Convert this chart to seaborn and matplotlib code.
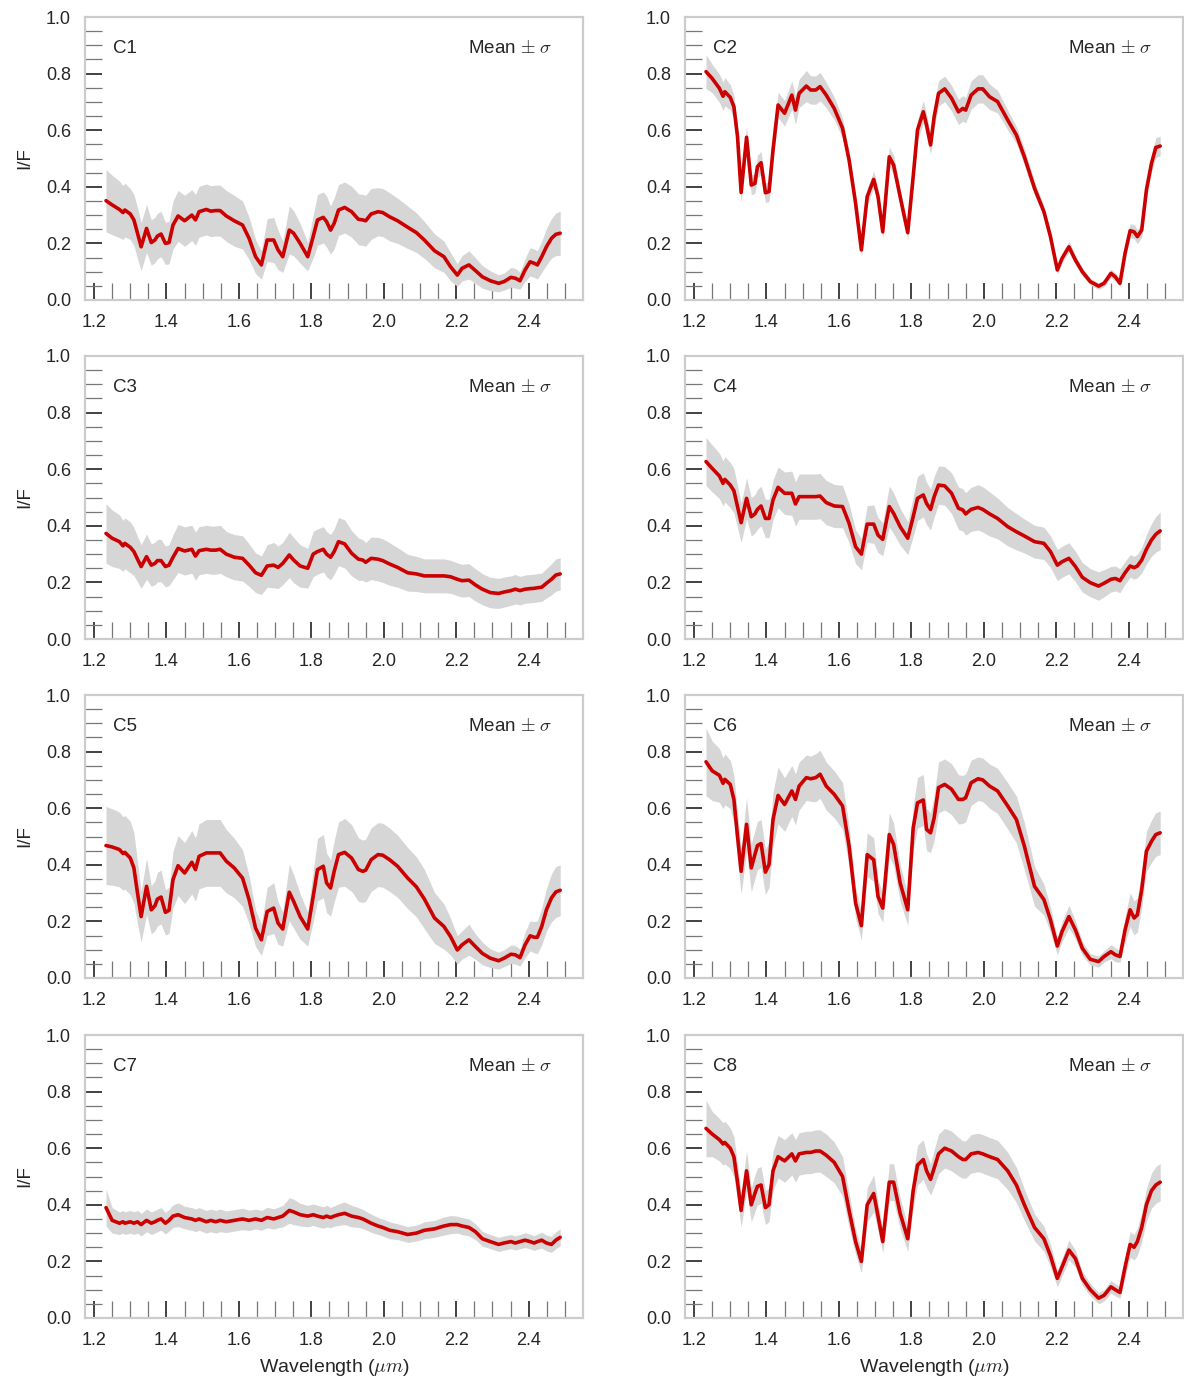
import numpy as np
import pandas as pd
import matplotlib
matplotlib.use("Agg")
import matplotlib.pyplot as plt
from matplotlib.ticker import MultipleLocator, FormatStrFormatter
import seaborn as sns

# ---- data: mean I/F spectra and 1-sigma per class ----
wavelength = [
    1.233, 1.250, 1.270, 1.280, 1.285, 1.300, 1.310, 1.320, 1.330, 1.345,
    1.358, 1.368, 1.375, 1.385, 1.397, 1.407, 1.418, 1.432, 1.450, 1.470,
    1.480, 1.490, 1.510, 1.522, 1.536, 1.548, 1.565, 1.587, 1.610, 1.628,
    1.646, 1.662, 1.678, 1.696, 1.708, 1.721, 1.739, 1.751, 1.769, 1.790,
    1.805, 1.817, 1.833, 1.842, 1.853, 1.863, 1.875, 1.892, 1.911, 1.930,
    1.942, 1.950, 1.965, 1.984, 1.997, 2.016, 2.038, 2.066, 2.090, 2.112,
    2.140, 2.166, 2.184, 2.203, 2.216, 2.235, 2.253, 2.272, 2.294, 2.317,
    2.332, 2.351, 2.363, 2.376, 2.390, 2.404, 2.415, 2.424, 2.436, 2.449,
    2.463, 2.475, 2.487]

c1_mean = [
    0.351, 0.336, 0.320, 0.309, 0.318, 0.304, 0.283, 0.236, 0.188, 0.253,
    0.203, 0.212, 0.226, 0.233, 0.200, 0.203, 0.265, 0.297, 0.280, 0.300,
    0.283, 0.312, 0.320, 0.314, 0.316, 0.316, 0.297, 0.280, 0.265, 0.218,
    0.153, 0.124, 0.212, 0.212, 0.177, 0.153, 0.247, 0.236, 0.200, 0.153,
    0.224, 0.283, 0.292, 0.277, 0.247, 0.271, 0.318, 0.327, 0.312, 0.285,
    0.283, 0.280, 0.304, 0.312, 0.309, 0.294, 0.280, 0.257, 0.238, 0.212,
    0.174, 0.153, 0.118, 0.088, 0.112, 0.124, 0.104, 0.082, 0.068, 0.059,
    0.065, 0.080, 0.077, 0.068, 0.106, 0.135, 0.130, 0.124, 0.153, 0.188,
    0.218, 0.232, 0.236]
c1_sd = [
    0.110, 0.105, 0.100, 0.095, 0.095, 0.090, 0.090, 0.090, 0.085, 0.085,
    0.080, 0.080, 0.080, 0.080, 0.075, 0.075, 0.085, 0.090, 0.090, 0.090,
    0.090, 0.090, 0.090, 0.090, 0.090, 0.090, 0.090, 0.090, 0.085, 0.075,
    0.060, 0.050, 0.075, 0.080, 0.070, 0.055, 0.085, 0.080, 0.070, 0.050,
    0.075, 0.090, 0.090, 0.090, 0.085, 0.090, 0.090, 0.090, 0.090, 0.090,
    0.090, 0.090, 0.090, 0.085, 0.085, 0.085, 0.080, 0.075, 0.070, 0.065,
    0.060, 0.055, 0.050, 0.040, 0.045, 0.050, 0.045, 0.040, 0.035, 0.030,
    0.030, 0.035, 0.035, 0.030, 0.040, 0.050, 0.050, 0.050, 0.055, 0.065,
    0.070, 0.075, 0.078]

c2_mean = [
    0.807, 0.783, 0.748, 0.720, 0.736, 0.716, 0.683, 0.577, 0.380, 0.575,
    0.406, 0.412, 0.471, 0.485, 0.379, 0.383, 0.530, 0.689, 0.660, 0.724,
    0.671, 0.730, 0.756, 0.742, 0.742, 0.754, 0.724, 0.677, 0.607, 0.495,
    0.342, 0.177, 0.365, 0.426, 0.365, 0.241, 0.506, 0.477, 0.365, 0.238,
    0.436, 0.601, 0.665, 0.618, 0.548, 0.648, 0.730, 0.746, 0.713, 0.665,
    0.677, 0.671, 0.724, 0.746, 0.746, 0.718, 0.701, 0.636, 0.583, 0.506,
    0.395, 0.312, 0.224, 0.106, 0.147, 0.188, 0.141, 0.100, 0.065, 0.049,
    0.059, 0.094, 0.082, 0.059, 0.165, 0.245, 0.241, 0.224, 0.247, 0.389,
    0.483, 0.539, 0.544]
c2_sd = [
    0.060, 0.050, 0.050, 0.050, 0.050, 0.045, 0.040, 0.040, 0.035, 0.040,
    0.035, 0.035, 0.040, 0.040, 0.035, 0.035, 0.040, 0.045, 0.045, 0.050,
    0.050, 0.050, 0.055, 0.050, 0.050, 0.050, 0.045, 0.040, 0.035, 0.030,
    0.030, 0.025, 0.030, 0.030, 0.030, 0.025, 0.035, 0.035, 0.030, 0.025,
    0.030, 0.035, 0.040, 0.040, 0.035, 0.040, 0.045, 0.045, 0.045, 0.045,
    0.045, 0.045, 0.050, 0.050, 0.050, 0.045, 0.040, 0.035, 0.030, 0.030,
    0.025, 0.020, 0.020, 0.015, 0.015, 0.020, 0.015, 0.015, 0.012, 0.012,
    0.012, 0.015, 0.015, 0.012, 0.020, 0.025, 0.025, 0.025, 0.025, 0.030,
    0.030, 0.035, 0.035]

c3_mean = [
    0.373, 0.356, 0.344, 0.329, 0.338, 0.324, 0.309, 0.282, 0.256, 0.291,
    0.261, 0.267, 0.277, 0.277, 0.256, 0.261, 0.289, 0.320, 0.311, 0.317,
    0.293, 0.312, 0.317, 0.314, 0.314, 0.317, 0.300, 0.289, 0.285, 0.261,
    0.234, 0.225, 0.258, 0.261, 0.253, 0.267, 0.297, 0.279, 0.258, 0.250,
    0.300, 0.309, 0.317, 0.300, 0.289, 0.309, 0.344, 0.336, 0.303, 0.282,
    0.279, 0.271, 0.285, 0.282, 0.277, 0.265, 0.253, 0.234, 0.230, 0.223,
    0.223, 0.223, 0.220, 0.211, 0.206, 0.208, 0.191, 0.176, 0.164, 0.161,
    0.166, 0.171, 0.176, 0.171, 0.176, 0.178, 0.179, 0.181, 0.183, 0.197,
    0.211, 0.226, 0.230]
c3_sd = [
    0.105, 0.100, 0.095, 0.090, 0.090, 0.090, 0.085, 0.080, 0.077, 0.080,
    0.075, 0.075, 0.075, 0.075, 0.072, 0.072, 0.080, 0.085, 0.085, 0.085,
    0.085, 0.085, 0.085, 0.085, 0.085, 0.085, 0.080, 0.080, 0.080, 0.075,
    0.070, 0.068, 0.075, 0.080, 0.075, 0.075, 0.080, 0.080, 0.075, 0.070,
    0.080, 0.080, 0.080, 0.080, 0.080, 0.080, 0.085, 0.085, 0.080, 0.075,
    0.072, 0.070, 0.075, 0.077, 0.077, 0.075, 0.070, 0.065, 0.062, 0.060,
    0.060, 0.060, 0.058, 0.058, 0.058, 0.058, 0.057, 0.055, 0.054, 0.053,
    0.053, 0.052, 0.052, 0.050, 0.050, 0.050, 0.050, 0.050, 0.050, 0.052,
    0.055, 0.057, 0.057]

c4_mean = [
    0.627, 0.603, 0.576, 0.550, 0.564, 0.544, 0.524, 0.468, 0.411, 0.497,
    0.432, 0.442, 0.458, 0.470, 0.426, 0.426, 0.491, 0.536, 0.515, 0.515,
    0.477, 0.503, 0.503, 0.503, 0.503, 0.505, 0.482, 0.470, 0.468, 0.409,
    0.326, 0.300, 0.406, 0.406, 0.367, 0.352, 0.468, 0.444, 0.397, 0.356,
    0.432, 0.497, 0.509, 0.479, 0.458, 0.503, 0.544, 0.541, 0.515, 0.462,
    0.456, 0.442, 0.458, 0.465, 0.458, 0.442, 0.426, 0.397, 0.379, 0.364,
    0.344, 0.338, 0.309, 0.261, 0.273, 0.285, 0.256, 0.218, 0.199, 0.187,
    0.197, 0.211, 0.214, 0.206, 0.234, 0.258, 0.252, 0.258, 0.279, 0.317,
    0.350, 0.370, 0.382]
c4_sd = [
    0.085, 0.083, 0.080, 0.080, 0.080, 0.080, 0.078, 0.075, 0.070, 0.072,
    0.068, 0.068, 0.070, 0.070, 0.068, 0.068, 0.070, 0.072, 0.075, 0.078,
    0.078, 0.080, 0.080, 0.080, 0.080, 0.080, 0.078, 0.076, 0.075, 0.068,
    0.060, 0.055, 0.065, 0.068, 0.062, 0.058, 0.072, 0.072, 0.065, 0.058,
    0.070, 0.078, 0.078, 0.075, 0.072, 0.072, 0.068, 0.068, 0.072, 0.075,
    0.075, 0.075, 0.078, 0.080, 0.080, 0.078, 0.072, 0.068, 0.064, 0.060,
    0.058, 0.057, 0.056, 0.055, 0.055, 0.055, 0.054, 0.052, 0.050, 0.050,
    0.048, 0.045, 0.044, 0.042, 0.040, 0.040, 0.040, 0.042, 0.045, 0.052,
    0.058, 0.063, 0.067]

c5_mean = [
    0.468, 0.463, 0.454, 0.440, 0.444, 0.424, 0.389, 0.300, 0.217, 0.324,
    0.241, 0.255, 0.279, 0.286, 0.232, 0.239, 0.348, 0.397, 0.371, 0.409,
    0.383, 0.430, 0.442, 0.442, 0.442, 0.442, 0.413, 0.389, 0.353, 0.277,
    0.176, 0.135, 0.235, 0.247, 0.194, 0.173, 0.303, 0.271, 0.217, 0.173,
    0.288, 0.383, 0.395, 0.336, 0.318, 0.377, 0.436, 0.444, 0.424, 0.383,
    0.377, 0.381, 0.418, 0.436, 0.434, 0.418, 0.395, 0.353, 0.322, 0.279,
    0.212, 0.182, 0.147, 0.099, 0.117, 0.135, 0.111, 0.087, 0.070, 0.061,
    0.070, 0.084, 0.082, 0.072, 0.117, 0.149, 0.144, 0.144, 0.182, 0.241,
    0.283, 0.304, 0.310]
c5_sd = [
    0.138, 0.135, 0.132, 0.130, 0.130, 0.130, 0.125, 0.110, 0.090, 0.100,
    0.085, 0.088, 0.095, 0.095, 0.080, 0.082, 0.100, 0.106, 0.108, 0.112,
    0.112, 0.115, 0.118, 0.118, 0.118, 0.118, 0.112, 0.105, 0.100, 0.085,
    0.065, 0.055, 0.085, 0.090, 0.075, 0.060, 0.100, 0.095, 0.080, 0.060,
    0.090, 0.110, 0.112, 0.105, 0.100, 0.108, 0.115, 0.120, 0.118, 0.112,
    0.110, 0.110, 0.112, 0.113, 0.113, 0.112, 0.110, 0.108, 0.106, 0.105,
    0.090, 0.080, 0.065, 0.050, 0.050, 0.055, 0.045, 0.040, 0.033, 0.030,
    0.030, 0.033, 0.033, 0.030, 0.045, 0.053, 0.055, 0.058, 0.065, 0.075,
    0.085, 0.090, 0.090]

c6_mean = [
    0.764, 0.732, 0.716, 0.688, 0.702, 0.684, 0.631, 0.501, 0.377, 0.543,
    0.389, 0.436, 0.468, 0.475, 0.374, 0.401, 0.560, 0.645, 0.613, 0.661,
    0.631, 0.678, 0.708, 0.704, 0.708, 0.720, 0.678, 0.649, 0.608, 0.466,
    0.265, 0.185, 0.436, 0.418, 0.288, 0.247, 0.507, 0.472, 0.336, 0.241,
    0.530, 0.619, 0.629, 0.525, 0.513, 0.566, 0.673, 0.684, 0.667, 0.631,
    0.631, 0.637, 0.690, 0.704, 0.700, 0.678, 0.661, 0.608, 0.560, 0.466,
    0.324, 0.277, 0.206, 0.113, 0.164, 0.217, 0.170, 0.105, 0.066, 0.058,
    0.076, 0.093, 0.082, 0.076, 0.170, 0.241, 0.212, 0.223, 0.312, 0.448,
    0.483, 0.507, 0.513]
c6_sd = [
    0.120, 0.105, 0.095, 0.090, 0.090, 0.085, 0.085, 0.085, 0.080, 0.095,
    0.085, 0.085, 0.085, 0.085, 0.080, 0.080, 0.095, 0.100, 0.095, 0.090,
    0.090, 0.085, 0.080, 0.080, 0.085, 0.085, 0.085, 0.083, 0.083, 0.070,
    0.055, 0.050, 0.077, 0.077, 0.060, 0.050, 0.077, 0.075, 0.065, 0.055,
    0.080, 0.090, 0.090, 0.075, 0.070, 0.080, 0.090, 0.090, 0.090, 0.087,
    0.085, 0.085, 0.080, 0.077, 0.077, 0.078, 0.080, 0.082, 0.083, 0.083,
    0.070, 0.055, 0.045, 0.030, 0.035, 0.040, 0.032, 0.025, 0.020, 0.020,
    0.020, 0.025, 0.025, 0.020, 0.045, 0.060, 0.060, 0.060, 0.065, 0.070,
    0.075, 0.077, 0.077]

c7_mean = [
    0.390, 0.345, 0.335, 0.340, 0.335, 0.340, 0.335, 0.340, 0.330, 0.345,
    0.335, 0.340, 0.345, 0.350, 0.335, 0.345, 0.360, 0.365, 0.355, 0.350,
    0.345, 0.350, 0.340, 0.345, 0.340, 0.345, 0.340, 0.345, 0.350, 0.345,
    0.350, 0.345, 0.355, 0.350, 0.355, 0.360, 0.380, 0.375, 0.365, 0.360,
    0.365, 0.360, 0.355, 0.360, 0.355, 0.360, 0.365, 0.370, 0.360, 0.355,
    0.350, 0.345, 0.335, 0.325, 0.320, 0.310, 0.305, 0.295, 0.300, 0.310,
    0.315, 0.325, 0.330, 0.330, 0.325, 0.320, 0.305, 0.280, 0.270, 0.260,
    0.265, 0.270, 0.265, 0.270, 0.275, 0.270, 0.265, 0.270, 0.275, 0.265,
    0.260, 0.275, 0.285]
c7_sd = [
    0.065, 0.045, 0.040, 0.040, 0.040, 0.040, 0.040, 0.040, 0.040, 0.040,
    0.040, 0.040, 0.040, 0.040, 0.038, 0.038, 0.040, 0.042, 0.040, 0.040,
    0.040, 0.040, 0.040, 0.040, 0.040, 0.040, 0.038, 0.038, 0.038, 0.036,
    0.035, 0.035, 0.036, 0.036, 0.036, 0.038, 0.045, 0.045, 0.040, 0.038,
    0.038, 0.038, 0.038, 0.038, 0.036, 0.036, 0.038, 0.040, 0.038, 0.035,
    0.034, 0.033, 0.032, 0.030, 0.030, 0.030, 0.028, 0.028, 0.028, 0.030,
    0.030, 0.032, 0.032, 0.030, 0.030, 0.030, 0.028, 0.026, 0.025, 0.025,
    0.025, 0.025, 0.025, 0.025, 0.026, 0.026, 0.026, 0.027, 0.028, 0.028,
    0.028, 0.030, 0.030]

c8_mean = [
    0.670, 0.650, 0.630, 0.615, 0.620, 0.600, 0.570, 0.480, 0.380, 0.520,
    0.400, 0.440, 0.465, 0.470, 0.390, 0.400, 0.520, 0.570, 0.555, 0.580,
    0.555, 0.580, 0.585, 0.585, 0.590, 0.590, 0.575, 0.550, 0.500, 0.380,
    0.270, 0.200, 0.400, 0.440, 0.360, 0.270, 0.480, 0.480, 0.370, 0.280,
    0.450, 0.540, 0.560, 0.520, 0.490, 0.530, 0.580, 0.600, 0.590, 0.570,
    0.560, 0.560, 0.580, 0.585, 0.580, 0.570, 0.560, 0.520, 0.470, 0.400,
    0.320, 0.280, 0.220, 0.140, 0.180, 0.240, 0.210, 0.140, 0.100, 0.070,
    0.080, 0.110, 0.100, 0.090, 0.180, 0.260, 0.250, 0.270, 0.320, 0.400,
    0.450, 0.470, 0.480]
c8_sd = [
    0.100, 0.080, 0.075, 0.075, 0.075, 0.072, 0.070, 0.065, 0.060, 0.070,
    0.060, 0.065, 0.065, 0.065, 0.060, 0.060, 0.070, 0.075, 0.075, 0.075,
    0.075, 0.075, 0.075, 0.075, 0.075, 0.075, 0.075, 0.072, 0.070, 0.060,
    0.045, 0.040, 0.060, 0.065, 0.050, 0.040, 0.065, 0.065, 0.055, 0.045,
    0.060, 0.070, 0.070, 0.060, 0.055, 0.065, 0.070, 0.070, 0.070, 0.068,
    0.066, 0.066, 0.068, 0.068, 0.068, 0.068, 0.068, 0.066, 0.062, 0.055,
    0.048, 0.044, 0.040, 0.030, 0.032, 0.035, 0.030, 0.025, 0.022, 0.020,
    0.020, 0.022, 0.022, 0.020, 0.035, 0.045, 0.045, 0.048, 0.052, 0.058,
    0.062, 0.065, 0.066]

classes = ["C1", "C2", "C3", "C4", "C5", "C6", "C7", "C8"]
means = [c1_mean, c2_mean, c3_mean, c4_mean, c5_mean, c6_mean, c7_mean, c8_mean]
sds = [c1_sd, c2_sd, c3_sd, c4_sd, c5_sd, c6_sd, c7_sd, c8_sd]

# ---- style ----
sns.set_theme(style="white")
plt.rcParams['font.family'] = ['Liberation Sans', 'DejaVu Sans']
plt.rcParams['mathtext.fontset'] = 'cm'
text_col = '#262626'

fig = plt.figure(figsize=(11.84, 13.8), dpi=100)

col_x = [85 / 1184, 685 / 1184]
ax_w = 498 / 1184
row_y = [1 - 300 / 1380, 1 - 639 / 1380, 1 - 978 / 1380, 1 - 1318 / 1380]
ax_h = 283 / 1380

for i, name in enumerate(classes):
    r, c = divmod(i, 2)
    ax = fig.add_axes([col_x[c], row_y[r], ax_w, ax_h])

    m = np.array(means[i])
    s = np.array(sds[i])
    ax.fill_between(wavelength, m - s, m + s, color='#d6d6d6', lw=0)
    sns.lineplot(x=wavelength, y=m, ax=ax, color='#cc0000', lw=2.6)

    ax.set_xlim(1.175, 2.55)
    ax.set_ylim(0, 1.0)
    ax.yaxis.set_major_locator(MultipleLocator(0.2))
    ax.yaxis.set_minor_locator(MultipleLocator(0.05))
    ax.xaxis.set_major_formatter(FormatStrFormatter('%.1f'))
    ax.yaxis.set_major_formatter(FormatStrFormatter('%.1f'))
    ax.set_xticks([1.2, 1.4, 1.6, 1.8, 2.0, 2.2, 2.4])
    ax.set_xticks(np.arange(1.2, 2.501, 0.05), minor=True)

    ax.tick_params(which='both', direction='in', labelsize=13,
                   labelcolor=text_col, pad=10, bottom=True, left=True)
    ax.tick_params(which='major', length=12.5, width=1.3, color='#333333')
    ax.tick_params(which='minor', length=12.5, width=0.9, color='#777777')

    for sp in ax.spines.values():
        sp.set_color('#cccccc')
        sp.set_linewidth(1.6)

    ax.text(0.056, 0.89, name, transform=ax.transAxes, fontsize=13.5,
            color=text_col, ha='left', va='center')
    ax.text(0.938, 0.89, r'Mean $\pm$ $\sigma$', transform=ax.transAxes,
            fontsize=13.5, color=text_col, ha='right', va='center')

    if c == 0:
        ax.set_ylabel('I/F', fontsize=13.5, color=text_col, labelpad=9)
    else:
        ax.set_ylabel('')
    if r == 3:
        ax.set_xlabel(r'Wavelength ($\mu m$)', fontsize=14, color=text_col,
                      labelpad=6)
    else:
        ax.set_xlabel('')

fig.savefig('out.png', dpi=100)
